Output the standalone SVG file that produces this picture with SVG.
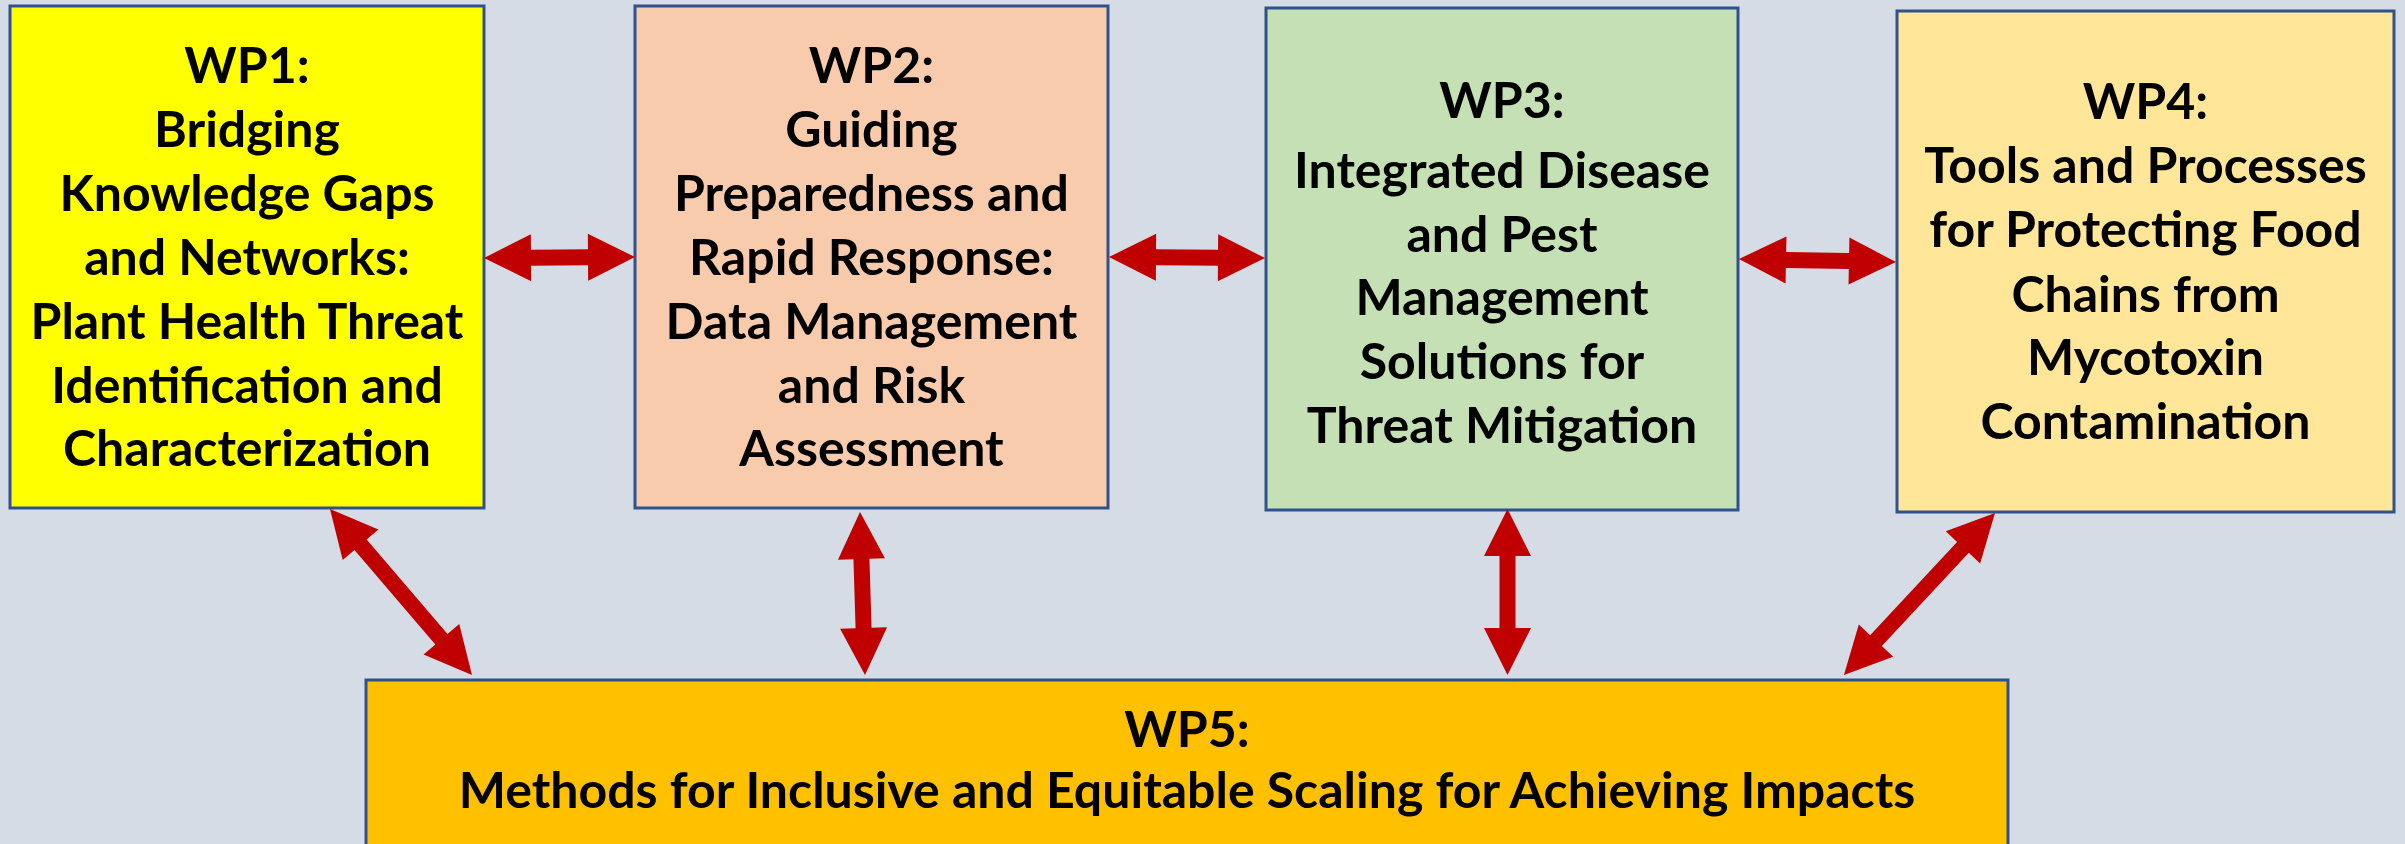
<svg xmlns="http://www.w3.org/2000/svg" width="2405" height="844" viewBox="0 0 2405 844">
<defs>
<style>
.box{stroke:#2F528F;stroke-width:3}
.t{font-family:Lato,"Liberation Sans",sans-serif;font-weight:bold;font-size:50px;fill:#000;text-anchor:middle}
.arr{fill:#C00000}
</style>
</defs>
<rect x="0" y="0" width="2405" height="844" fill="#D6DCE5"/>
<g id="wp1">
<rect class="box" x="10" y="6" width="474" height="502" fill="#FFFF00"/>
<text class="t" x="247" y="83">WP1:</text>
<text class="t" x="247" y="147">Bridging</text>
<text class="t" x="247" y="211">Knowledge Gaps</text>
<text class="t" x="247" y="275">and Networks:</text>
<text class="t" x="247" y="339">Plant Health Threat</text>
<text class="t" x="247" y="403">Identification and</text>
<text class="t" x="247" y="466">Characterization</text>
</g>
<g id="wp2">
<rect class="box" x="635" y="6" width="473" height="502" fill="#F8CBAD"/>
<text class="t" x="871.5" y="83">WP2:</text>
<text class="t" x="871.5" y="147">Guiding</text>
<text class="t" x="871.5" y="211">Preparedness and</text>
<text class="t" x="871.5" y="275">Rapid Response:</text>
<text class="t" x="871.5" y="339">Data Management</text>
<text class="t" x="871.5" y="403">and Risk</text>
<text class="t" x="871.5" y="466">Assessment</text>
</g>
<g id="wp3">
<rect class="box" x="1266" y="8" width="472" height="502" fill="#C5E0B4"/>
<text class="t" x="1502" y="118">WP3:</text>
<text class="t" x="1502" y="188">Integrated Disease</text>
<text class="t" x="1502" y="252">and Pest</text>
<text class="t" x="1502" y="315">Management</text>
<text class="t" x="1502" y="379">Solutions for</text>
<text class="t" x="1502" y="443">Threat Mitigation</text>
</g>
<g id="wp4">
<rect class="box" x="1897" y="11" width="497" height="501" fill="#FFE699"/>
<text class="t" x="2145.5" y="119">WP4:</text>
<text class="t" x="2145.5" y="183">Tools and Processes</text>
<text class="t" x="2145.5" y="247">for Protecting Food</text>
<text class="t" x="2145.5" y="312">Chains from</text>
<text class="t" x="2145.5" y="375">Mycotoxin</text>
<text class="t" x="2145.5" y="439">Contamination</text>
</g>
<g id="wp5">
<rect class="box" x="366" y="680" width="1642" height="200" fill="#FFC000"/>
<text class="t" x="1187" y="747">WP5:</text>
<text class="t" x="1187" y="808">Methods for Inclusive and Equitable Scaling for Achieving Impacts</text>
</g>
<g id="connectors" class="arr">
<polygon transform="translate(484,258) rotate(-0.38)" points="0,0 47,-23.5 47,-8 104,-8 104,-23.5 151,0 104,23.5 104,8 47,8 47,23.5"/>
<polygon transform="translate(1109,257) rotate(0.37)" points="0,0 47,-23.5 47,-8 109,-8 109,-23.5 156,0 109,23.5 109,8 47,8 47,23.5"/>
<polygon transform="translate(1739,259) rotate(1.1)" points="0,0 47,-23.5 47,-8 110,-8 110,-23.5 157,0 110,23.5 110,8 47,8 47,23.5"/>
<polygon transform="translate(330,509) rotate(49.46)" points="0,0 47,-23.5 47,-8 171.4,-8 171.4,-23.5 218.4,0 171.4,23.5 171.4,8 47,8 47,23.5"/>
<polygon transform="translate(860,512) rotate(88.24)" points="0,0 47,-23.5 47,-8 116.1,-8 116.1,-23.5 163.1,0 116.1,23.5 116.1,8 47,8 47,23.5"/>
<polygon transform="translate(1507.5,509) rotate(90)" points="0,0 47,-23.5 47,-8 119,-8 119,-23.5 166,0 119,23.5 119,8 47,8 47,23.5"/>
<polygon transform="translate(1995,513) rotate(133)" points="0,0 47,-23.5 47,-8 174.5,-8 174.5,-23.5 221.5,0 174.5,23.5 174.5,8 47,8 47,23.5"/>
</g>
</svg>
